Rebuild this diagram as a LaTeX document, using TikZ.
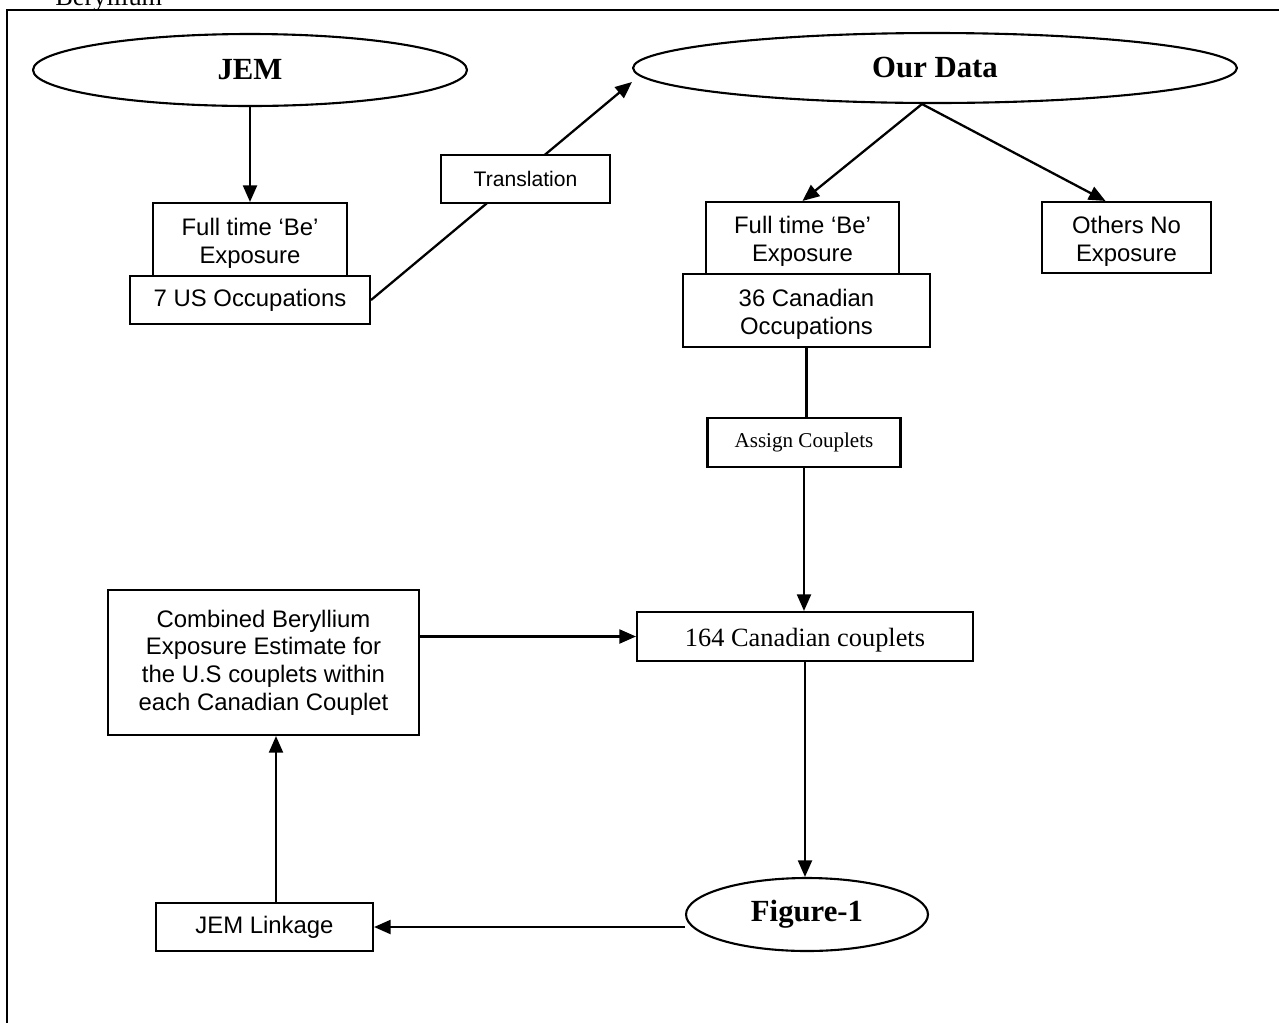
\documentclass[tikz,border=0pt]{standalone}
\usepackage{fontspec}
\setmainfont{Liberation Serif}
\setsansfont{Liberation Sans}
\usetikzlibrary{shapes.geometric,arrows.meta}

\begin{document}
\begin{tikzpicture}[x=0.02cm,y=-0.02cm,
  rbox/.style={draw, line width=1.2pt, fill=white, inner sep=0pt, align=center,
    font=\sffamily\fontsize{13.6}{15.8}\selectfont},
  oval/.style={ellipse, draw, line width=1.2pt, fill=white, inner sep=0pt,
    font=\rmfamily\bfseries\fontsize{17.5}{20}\selectfont},
  arr/.style={-{Triangle[length=9.5pt,width=8pt]}, line width=1.3pt}]
  \useasboundingbox (0,0) rectangle (1279,1022);

  %% frame
  \draw[line width=1.1pt] (7,1030) -- (7,10) -- (1290,10);
  \node[anchor=base west, inner sep=0pt, font=\rmfamily\fontsize{15}{18}\selectfont] (title) at (55,5) {Beryllium};

  %% JEM side
  \node[oval, minimum width=8.68cm, minimum height=1.44cm] (jem) at (250,70) {JEM};
  \node[rbox, minimum width=3.88cm, minimum height=1.46cm] (beL) at (250,239.5) {\rule{0pt}{14pt}Full time ‘Be’\\Exposure};
  \node[rbox, minimum width=4.8cm, minimum height=0.96cm] (usocc) at (250,300) {7 US Occupations};

  %% our data side
  \node[oval, minimum width=12.08cm, minimum height=1.4cm] (data) at (935,68) {Our Data};
  \node[rbox, minimum width=3.86cm, minimum height=1.44cm] (beR) at (802.5,238) {\rule{0pt}{14pt}Full time ‘Be’\\Exposure};
  \node[rbox, minimum width=3.38cm, minimum height=1.42cm] (others) at (1126.5,237.5) {\rule{0pt}{14pt}Others No\\Exposure};
  \node[rbox, minimum width=4.94cm, minimum height=1.46cm] (canocc) at (806.5,310.5) {\rule{0pt}{14pt}36 Canadian\\Occupations};
  \node[rbox, font=\rmfamily\fontsize{12}{14}\selectfont, minimum width=3.86cm, minimum height=0.98cm] (assign) at (804,442.5) {Assign Couplets};
  \node[rbox, font=\rmfamily\fontsize{15}{18}\selectfont, minimum width=6.72cm, minimum height=0.98cm] (couplets) at (805,636.5) {\rule{0pt}{15pt}164 Canadian couplets};
  \node[oval, minimum width=4.84cm, minimum height=1.46cm] (fig) at (807,914.5) {Figure-1};

  %% linkage loop
  \node[rbox, minimum width=6.22cm, minimum height=2.9cm] (combined) at (263.5,662.5) {Combined Beryllium\\Exposure Estimate for\\the U.S couplets within\\each Canadian Couplet};
  \node[rbox, minimum width=4.34cm, minimum height=0.96cm] (linkage) at (264.5,927) {JEM Linkage};

  %% connectors
  \draw[arr] (jem.south) -- (beL.north);
  \draw[arr] (usocc.east) -- ([yshift=-0.28cm]data.west);
  \node[rbox, font=\sffamily\fontsize{12}{14}\selectfont, minimum width=3.38cm, minimum height=0.96cm] (transl) at (525.5,179) {Translation};
  \coordinate (split) at ([xshift=-0.26cm]data.south);
  \draw[arr] (split) -- (beR.north);
  \draw[arr] (split) -- ([xshift=-0.42cm]others.north);
  \draw[line width=1.3pt] (canocc.south) -- (canocc.south |- assign.north);
  \draw[arr] (assign.south) -- (assign.south |- couplets.north);
  \draw[arr] (combined.east |- couplets.west) -- (couplets.west);
  \draw[arr] (couplets.south) -- (couplets.south |- fig.north);
  \draw[arr] (fig.west |- linkage.east) -- (linkage.east);
  \draw[arr] ([xshift=0.23cm]linkage.north) -- ([xshift=0.23cm]linkage.north |- combined.south);

\end{tikzpicture}
\end{document}
